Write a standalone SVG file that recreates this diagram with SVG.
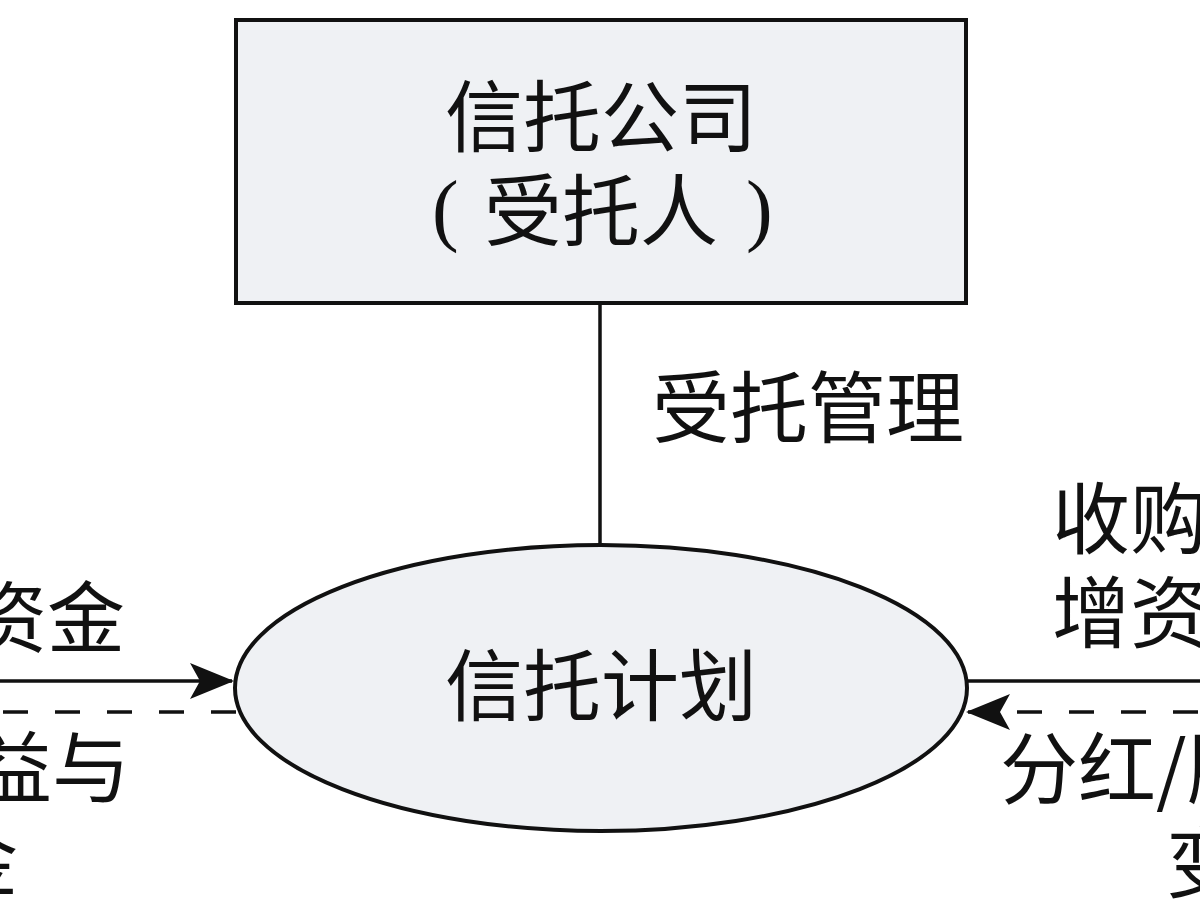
<svg xmlns="http://www.w3.org/2000/svg" width="1200" height="900" viewBox="0 0 1200 900">
  <style>
    .lbl { font-family: "Noto Sans CJK SC", "Liberation Serif", serif; font-size: 78px; fill: #111; }
    .paren { font-family: "Liberation Serif", "Noto Sans CJK SC", serif; font-size: 80px; fill: #111; }
    .node { fill: #eff1f4; stroke: #111; stroke-width: 4; }
    .line { stroke: #111; stroke-width: 3.5; fill: none; }
    .dash { stroke: #111; stroke-width: 3.5; fill: none; stroke-dasharray: 25 27; }
  </style>
  <defs>
    <marker id="arrow" markerUnits="userSpaceOnUse" viewBox="0 0 44 36" refX="42" refY="18" markerWidth="44" markerHeight="36" orient="auto">
      <path d="M0,0 L44,18 L0,36 L10,18 Z" fill="#111"/>
    </marker>
  </defs>
  <rect x="0" y="0" width="1200" height="900" fill="#ffffff"/>

  <g id="connectors">
    <line class="line" x1="600" y1="305" x2="600" y2="546"/>
    <line class="line" x1="0" y1="681" x2="232" y2="681" marker-end="url(#arrow)"/>
    <line class="dash" x1="3" y1="712" x2="236" y2="712"/>
    <line class="line" x1="966" y1="681" x2="1200" y2="681"/>
    <line class="dash" x1="1200" y1="712" x2="968" y2="712" marker-end="url(#arrow)" stroke-dashoffset="-2"/>
  </g>

  <g id="trust-company">
    <rect class="node" x="236" y="20" width="730" height="283"/>
    <text class="lbl" x="601" y="146" text-anchor="middle">信托公司</text>
    <text class="paren" x="432" y="236">(</text>
    <text class="lbl" x="601" y="240" text-anchor="middle">受托人</text>
    <text class="paren" x="746" y="236">)</text>
  </g>

  <g id="trust-plan">
    <ellipse class="node" cx="601" cy="688" rx="366" ry="143"/>
    <text class="lbl" x="601" y="715" text-anchor="middle">信托计划</text>
  </g>

  <g id="labels">
    <text class="lbl" x="652" y="437">受托管理</text>
    <text class="lbl" x="125" y="647" text-anchor="end">资金</text>
    <text class="lbl" x="130" y="797" text-anchor="end">益与</text>
    <text class="lbl" x="18" y="890" text-anchor="end">金</text>
    <text class="lbl" x="1052" y="548">收购</text>
    <text class="lbl" x="1052" y="642">增资</text>
    <text class="lbl" x="1000" y="798">分红/股</text>
    <text class="lbl" x="1166" y="892">变</text>
  </g>
</svg>
